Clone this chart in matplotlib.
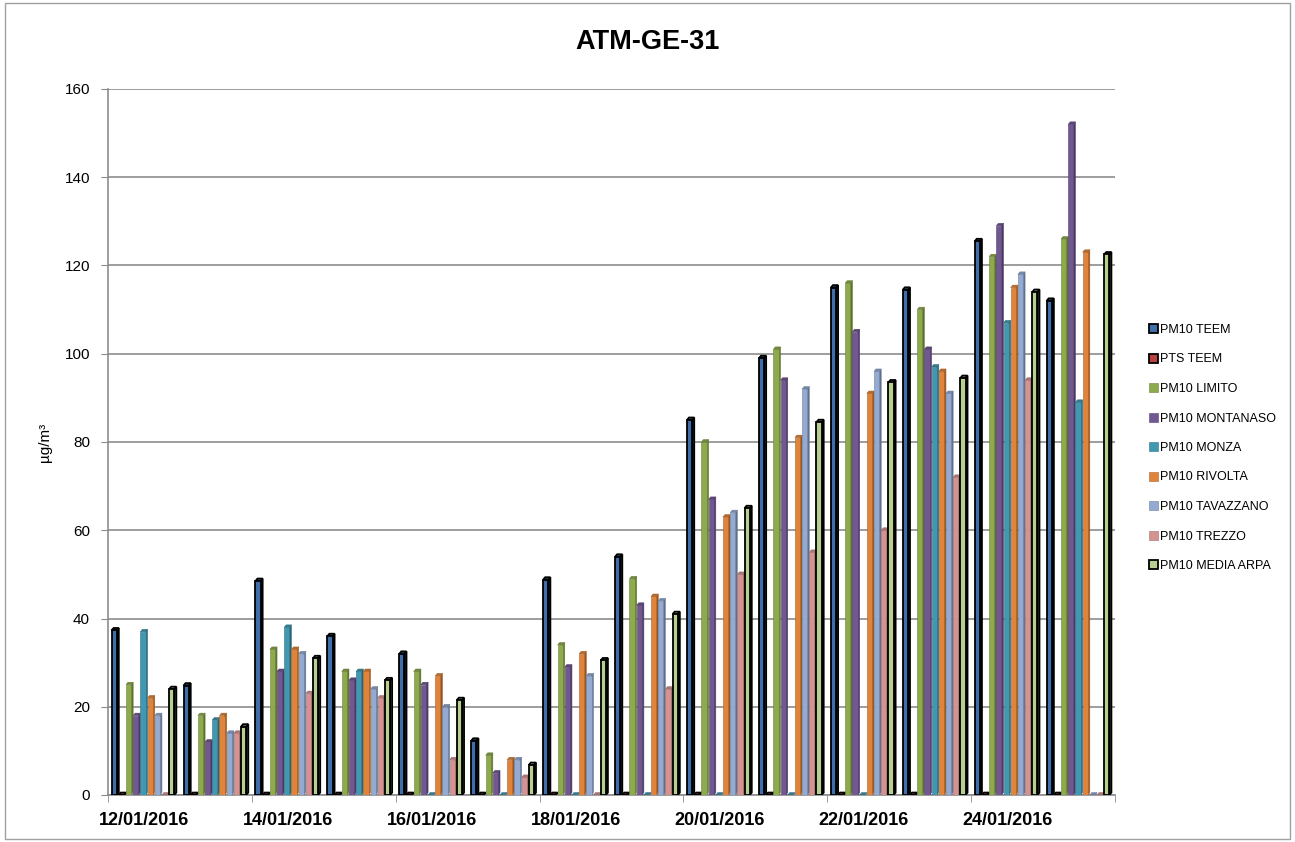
import numpy as np
import matplotlib.pyplot as plt
from matplotlib.patches import Rectangle, Polygon
from matplotlib.colors import to_rgb

plt.rcParams['font.family'] = ['Liberation Sans', 'DejaVu Sans']

# daily values, 12/01/2016 .. 25/01/2016
days = ["12/01/2016", "13/01/2016", "14/01/2016", "15/01/2016", "16/01/2016",
        "17/01/2016", "18/01/2016", "19/01/2016", "20/01/2016", "21/01/2016",
        "22/01/2016", "23/01/2016", "24/01/2016", "25/01/2016"]

pm10_teem = [37.3, 24.8, 48.5, 36, 32, 12.3, 48.8, 54, 85, 99, 115, 114.5, 125.5, 112]
pts_teem = [0] * 14
pm10_limito = [25, 18, 33, 28, 28, 9, 34, 49, 80, 101, 116, 110, 122, 126]
pm10_montanaso = [18, 12, 28, 26, 25, 5, 29, 43, 67, 94, 105, 101, 129, 152]
pm10_monza = [37, 17, 38, 28, 0, 0, 0, 0, 0, 0, 0, 97, 107, 89]
pm10_rivolta = [22, 18, 33, 28, 27, 8, 32, 45, 63, 81, 91, 96, 115, 123]
pm10_tavazzano = [18, 14, 32, 24, 20, 8, 27, 44, 64, 92, 96, 91, 118, 0]
pm10_trezzo = [0, 14, 23, 22, 8, 4, 0, 24, 50, 55, 60, 72, 94, 0]
pm10_media_arpa = [24, 15.5, 31, 26, 21.5, 6.8, 30.5, 41, 65, 84.5, 93.5, 94.5, 114, 122.5]

series_names = ["PM10 TEEM", "PTS TEEM", "PM10 LIMITO", "PM10 MONTANASO", "PM10 MONZA",
                "PM10 RIVOLTA", "PM10 TAVAZZANO", "PM10 TREZZO", "PM10 MEDIA ARPA"]
series_values = [pm10_teem, pts_teem, pm10_limito, pm10_montanaso, pm10_monza,
                 pm10_rivolta, pm10_tavazzano, pm10_trezzo, pm10_media_arpa]
colors = ["#3F6EA9", "#B8423F", "#8DAA4C", "#725893", "#4298B0",
          "#E0843B", "#93AAD3", "#D49391", "#B8CF92"]
outlined = [True, True, False, False, False, False, False, False, True]


def shade(c, f):
    r, g, b = to_rgb(c)
    return (r * f, g * f, b * f)


fig = plt.figure(figsize=(12.95, 8.42), dpi=100)
ax = fig.add_axes([108 / 1295, 47 / 842, 1007 / 1295, 706 / 842])

w = 0.1
dx, dy = 0.028, 0.55
x = np.arange(len(days))

# each column: front face + darker side + top cap
for i, (name, vals, col, edge) in enumerate(zip(series_names, series_values, colors, outlined)):
    lefts = x - 0.45 + i * w
    ec = "black" if edge else shade(col, 0.75)
    lw = 1.3 if edge else 0.4
    for xl, h in zip(lefts, vals):
        ax.add_patch(Polygon([(xl + w - dx, 0), (xl + w, dy), (xl + w, h + dy), (xl + w - dx, h)],
                             closed=True, fc=shade(col, 0.65), ec=ec, lw=lw, zorder=3))
        ax.add_patch(Polygon([(xl, h), (xl + dx, h + dy), (xl + w, h + dy), (xl + w - dx, h)],
                             closed=True, fc=shade(col, 0.8), ec=ec, lw=lw, zorder=3))
    ax.bar(lefts, vals, width=w - dx, align="edge", color=col, edgecolor=ec,
           linewidth=lw, zorder=3, label=name)

ax.set_xlim(-0.5, len(days) - 0.5)
ax.set_ylim(0, 160)
ax.set_yticks(np.arange(0, 161, 20))
ax.yaxis.grid(True, color="#8c8c8c", linewidth=1.2, zorder=0)
ax.tick_params(axis="y", labelsize=11, length=5, color="#8c8c8c", pad=8)

ax.set_xticks(x[::2])
ax.set_xticklabels(days[::2], fontsize=13, fontweight="bold")
ax.set_xticks(np.arange(-0.5, len(days), 2), minor=True)
ax.tick_params(axis="x", which="major", length=0, pad=12)
ax.tick_params(axis="x", which="minor", length=5, color="#8c8c8c")

for s in ["top", "right"]:
    ax.spines[s].set_visible(False)
for s in ["left", "bottom"]:
    ax.spines[s].set_color("#8c8c8c")
    ax.spines[s].set_linewidth(1.2)

ax.set_ylabel("µg/m³", fontsize=11, labelpad=9)
fig.text(0.5, 1 - 42 / 842, "ATM-GE-31", ha="center", va="center", fontsize=19.5, fontweight="bold")

handles, labels = ax.get_legend_handles_labels()
fig.legend(handles, labels, loc="center left", bbox_to_anchor=(1138 / 1295, 1 - 448 / 842),
           frameon=False, fontsize=9, handlelength=0.7, handleheight=0.7,
           handletextpad=0.2, labelspacing=1.4)

fig.patches.append(Rectangle((0.004, 0.003), 0.992, 0.994, transform=fig.transFigure,
                             fill=False, ec="#a0a0a0", lw=1))

fig.savefig("out.png", dpi=100)
